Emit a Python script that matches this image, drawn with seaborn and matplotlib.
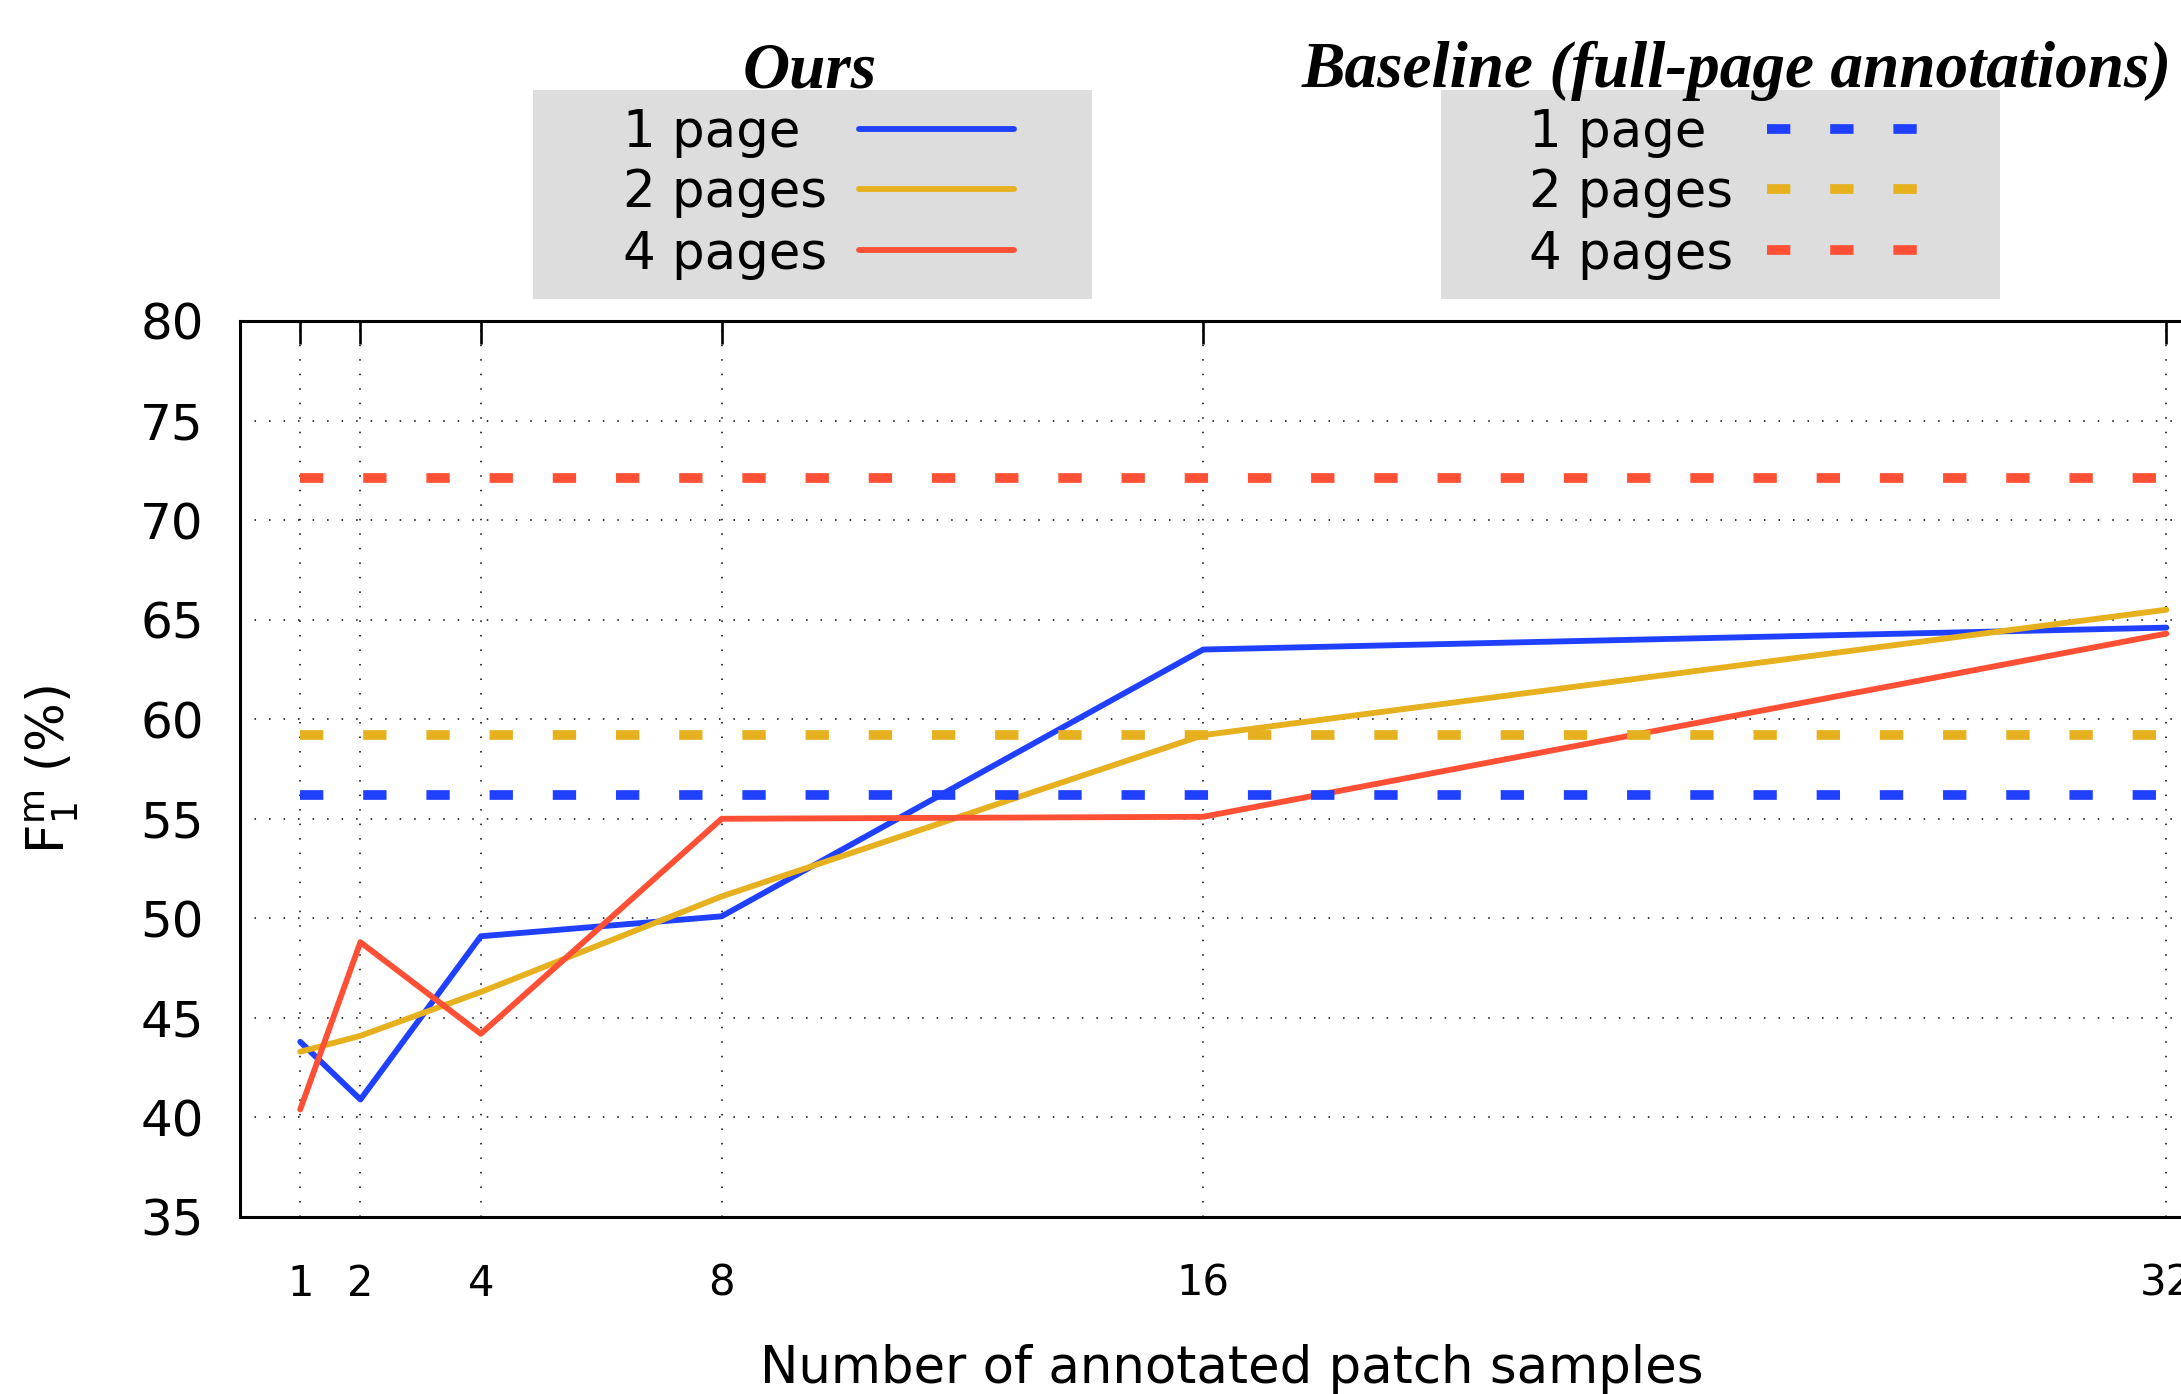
import numpy as np
import pandas as pd
import matplotlib.pyplot as plt
import seaborn as sns
from matplotlib.lines import Line2D
from matplotlib.patches import Rectangle

# Data
samples = [1, 2, 4, 8, 16, 32]
ours_1page = [43.8, 40.9, 49.1, 50.1, 63.5, 64.6]
ours_2pages = [43.3, 44.1, 46.3, 51.1, 59.2, 65.5]
ours_4pages = [40.4, 48.8, 44.2, 55.0, 55.1, 64.3]
baseline_f1 = [56.2, 59.2, 72.1]   # full-page annotations, 1 / 2 / 4 pages
page_labels = ["1 page", "2 pages", "4 pages"]
colors = ["#2040ff", "#e6b01e", "#ff5035"]
yticks = list(range(35, 81, 5))

sns.set_style("white")
plt.rcParams["font.family"] = ["DejaVu Sans"]
plt.rcParams["mathtext.fontset"] = "dejavusans"
for key in ["text.color", "axes.labelcolor", "xtick.color", "ytick.color"]:
    plt.rcParams[key] = "black"

df = pd.DataFrame({
    "samples": samples * 3,
    "f1": ours_1page + ours_2pages + ours_4pages,
    "pages": np.repeat(page_labels, len(samples)),
})
df_base = pd.DataFrame({
    "samples": [samples[0], samples[-1]] * 3,
    "f1": np.repeat(baseline_f1, 2),
    "pages": np.repeat(page_labels, 2),
})
palette = dict(zip(page_labels, colors))

W, H = 2181, 1394
fig = plt.figure(figsize=(W / 100, H / 100), dpi=100)
ax = fig.add_axes([240 / W, 1 - 1217 / H, 33 * 60.2 / W, 896 / H])

solid_lw = 4.2
dash_lw = 7.0
dash = (0, (2.4, 4.1))

sns.lineplot(data=df, x="samples", y="f1", hue="pages", palette=palette,
             lw=solid_lw, legend=False, ax=ax)
sns.lineplot(data=df_base, x="samples", y="f1", hue="pages", palette=palette,
             lw=dash_lw, linestyle=dash, legend=False, ax=ax)
for ln in ax.lines[3:]:
    ln.set_dash_capstyle("butt")

ax.set_xlim(0, 33)
ax.set_ylim(35, 80)
ax.set_xticks(samples)
ax.set_yticks(yticks)
ax.grid(True, color="black", lw=1.1, linestyle=(0, (1, 8.5)))
ax.set_axisbelow(True)
ax.tick_params(direction="in", length=16.5, width=1.9, top=True, right=True)
ax.tick_params(axis="y", labelsize=36, pad=26)
ax.tick_params(axis="x", labelsize=30, pad=33)
for sp in ax.spines.values():
    sp.set_linewidth(2.2)
    sp.set_color("black")

ax.set_xlabel("Number of annotated patch samples", fontsize=37)
ax.set_ylabel(r"F$_{\mathregular{1}}^{\mathregular{m}}$ (%)", fontsize=37)
ax.xaxis.set_label_coords(0.4994, -0.142)
ax.yaxis.set_label_coords(-0.08, 0.5)

# gnuplot-style keys: grey boxes with titles above them
title_kw = dict(family="Liberation Serif", weight="bold", style="italic",
                fontsize=47, ha="center", va="baseline", color="black")
fig.text(810 / W, 1 - 87 / H, "Ours", **title_kw)
fig.text(1737 / W, 1 - 87 / H, "Baseline (full-page annotations)", **title_kw)

rows_y = [129, 189, 250]
keys = [
    (533, 623, (859, 1014), "-", solid_lw),
    (1441, 1529, (1767, 1918), dash, dash_lw),
]
for box_x, text_x, (lx0, lx1), ls, lw in keys:
    fig.add_artist(Rectangle((box_x / W, 1 - 299 / H), 559 / W, 209 / H,
                             transform=fig.transFigure, facecolor="#dddddd",
                             edgecolor="none", zorder=0))
    for lab, col, ry in zip(page_labels, colors, rows_y):
        fig.text(text_x / W, 1 - (ry + 18.5) / H, lab, fontsize=37,
                 ha="left", va="baseline")
        fig.add_artist(Line2D([lx0 / W, lx1 / W], [1 - ry / H, 1 - ry / H],
                              transform=fig.transFigure, color=col, lw=lw,
                              linestyle=ls, dash_capstyle="butt"))

fig.savefig("out.png", dpi=100)
